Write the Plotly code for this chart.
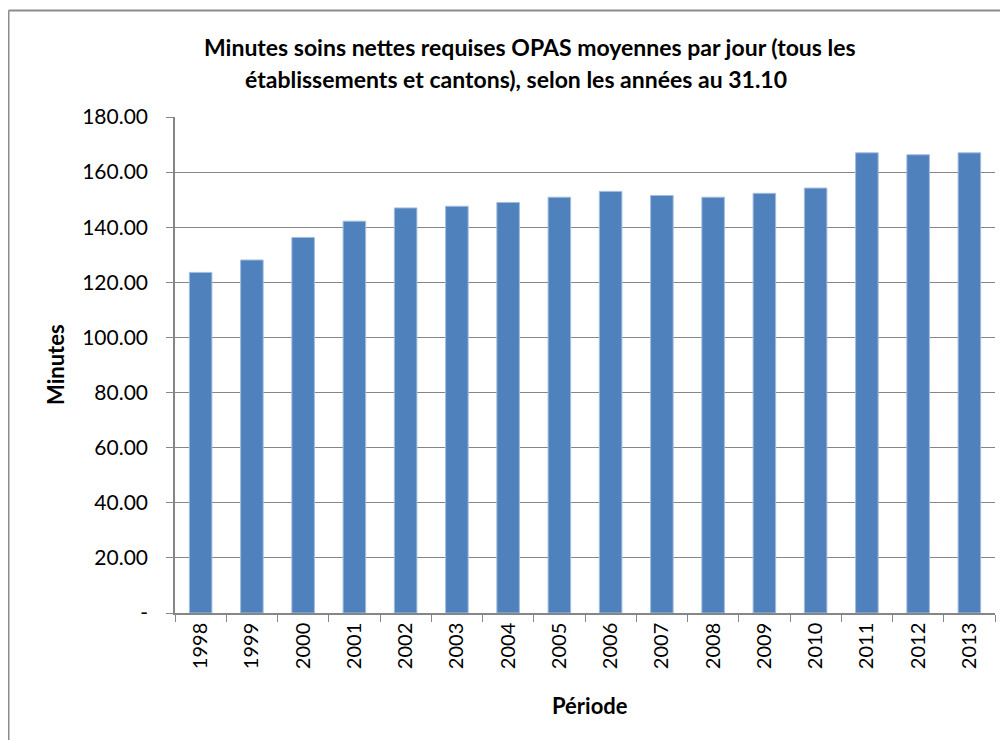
import plotly.graph_objects as go

years = ["1998", "1999", "2000", "2001", "2002", "2003", "2004", "2005",
         "2006", "2007", "2008", "2009", "2010", "2011", "2012", "2013"]
minutes = [123.6, 128.1, 136.3, 142.2, 147.0, 147.6, 149.0, 150.9,
           153.0, 151.5, 150.9, 152.3, 154.2, 167.0, 166.3, 167.0]
y_tick_vals = [0, 20, 40, 60, 80, 100, 120, 140, 160, 180]
y_tick_text = ["-", "20.00", "40.00", "60.00", "80.00", "100.00", "120.00",
               "140.00", "160.00", "180.00"]
title_line1 = "Minutes soins nettes requises OPAS moyennes par jour (tous les"
title_line2 = "établissements et cantons), selon les années au 31.10"
y_title = "Minutes"
x_title = "Période"

OFF = 8  # page body margin in the browser
W, H = 1008 - OFF, 740 - OFF
L, R, T, B = 175 - OFF, 13, 117 - OFF, 127
pw, ph = W - L - R, H - T - B


def px(xp):
    return (xp - OFF - L) / pw


def py(yp):
    return (H - B - (yp - OFF)) / ph


FONT = "Lato, Liberation Sans, Arial, sans-serif"
GRID = "#868686"

fig = go.Figure(go.Bar(
    x=years, y=minutes,
    marker=dict(color="#4F81BD", line=dict(color="#A3BCDC", width=1)),
))

fig.update_layout(
    width=W, height=H,
    margin=dict(l=L, r=R, t=T, b=B, autoexpand=False),
    paper_bgcolor="white", plot_bgcolor="white",
    bargap=0.56,
    showlegend=False,
    font=dict(family=FONT, color="black"),
)

fig.update_yaxes(
    range=[0, 180], tickvals=y_tick_vals, ticktext=y_tick_text,
    showgrid=True, gridcolor=GRID, gridwidth=1.3,
    showline=True, linecolor=GRID, linewidth=1.5,
    ticks="outside", ticklen=7, tickcolor=GRID, tickwidth=1,
    ticklabelstandoff=14,
    tickfont=dict(size=21, family=FONT, color="black"),
    zeroline=False,
)
fig.update_xaxes(
    showline=True, linecolor=GRID, linewidth=1.5,
    ticks="outside", ticklen=7, tickcolor=GRID, tickwidth=1,
    tickson="boundaries", tickangle=-90,
    tickfont=dict(size=20, family=FONT, color="black"),
    showgrid=False,
)

ann = [
    dict(text=title_line1, x=px(529.5), y=py(47), xref="paper", yref="paper",
         showarrow=False, xanchor="center", yanchor="middle",
         font=dict(size=23, family=FONT, color="black", weight="bold")),
    dict(text=title_line2, x=px(515.5), y=py(79), xref="paper", yref="paper",
         showarrow=False, xanchor="center", yanchor="middle",
         font=dict(size=23, family=FONT, color="black", weight="bold")),
    dict(text=y_title, x=px(55), y=py(365), xref="paper", yref="paper",
         showarrow=False, textangle=-90, xanchor="center", yanchor="middle",
         font=dict(size=22, family=FONT, color="black", weight="bold")),
    dict(text=x_title, x=px(590), y=py(705), xref="paper", yref="paper",
         showarrow=False, xanchor="center", yanchor="middle",
         font=dict(size=22, family=FONT, color="black", weight="bold")),
]
fig.update_layout(annotations=ann)

fig.update_layout(shapes=[
    dict(type="line", xref="paper", yref="paper",
         x0=px(8.5), x1=px(8.5), y0=py(10.5), y1=py(780),
         line=dict(color="#8C8C8C", width=2)),
    dict(type="line", xref="paper", yref="paper",
         x0=px(8.5), x1=px(1040), y0=py(10.5), y1=py(10.5),
         line=dict(color="#8C8C8C", width=2)),
])

fig.write_html("out.html")
